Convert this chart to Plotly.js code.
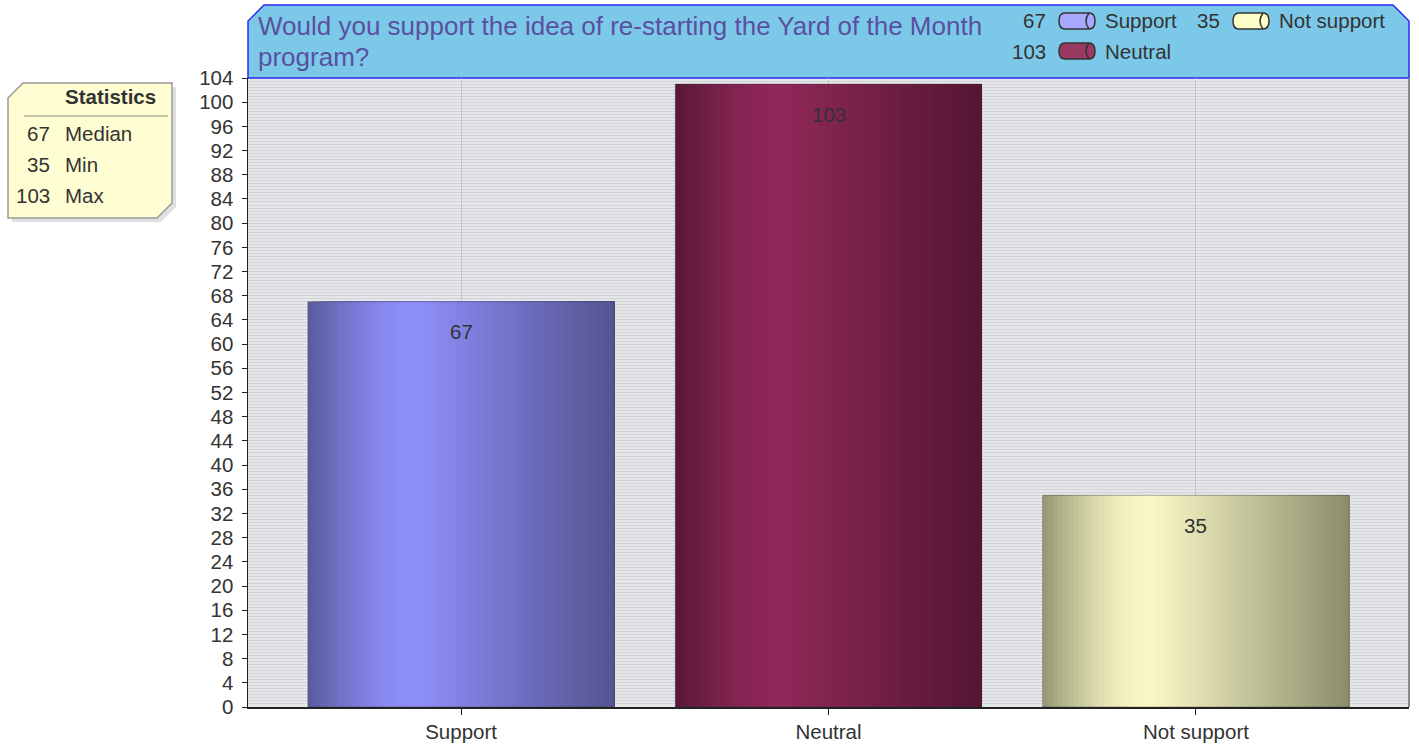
<!DOCTYPE html>
<html>
<head>
<meta charset="utf-8">
<script src="https://cdn.plot.ly/plotly-3.0.1.min.js"></script>
<style>
html,body{margin:0;padding:0;background:#fff;}
#chart{width:1419px;height:747px;}
</style>
</head>
<body>
<div id="chart"></div>
<script>
// ---- data ----
const categories = ['Support', 'Neutral', 'Not support'];
const values = [67, 103, 35];
const titleLines = ['Would you support the idea of re-starting the Yard of the Month', 'program?'];
const statLabels = ['Median', 'Min', 'Max'];
const yTicks = [];
for (let v = 0; v <= 104; v += 4) yTicks.push(v);

// ---- styles ----
const FONT = 'Liberation Sans, Arial, sans-serif';
const FS = 20.5;
const gradStops = [ // left, peak, right
  [[90, 90, 156], [142, 142, 250], [84, 84, 144]],
  [[88, 24, 56], [142, 40, 88], [84, 22, 50]],
  [[150, 150, 116], [248, 248, 198], [140, 140, 108]]
];
const legendFill = ['#a8a8ff', '#9a3a62', '#fefec8'];
const peakPos = 0.36;

// plot geometry in px
const L = 248, R = 1409, T = 78, B = 707;
const W = 1419, H = 747;
const px = x => (x - L) / (R - L);
const py = y => (B - y) / (B - T);

function mix(a, b, t) { return a.map((v, i) => Math.round(v + (b[i] - v) * t)); }
function gradColor(stops, t) {
  let c;
  if (t < peakPos) { const u = t / peakPos; c = mix(stops[0], stops[1], Math.sin(u * Math.PI / 2)); }
  else { const u = (t - peakPos) / (1 - peakPos); c = mix(stops[1], stops[2], u); }
  return 'rgb(' + c.join(',') + ')';
}

const barW = 0.834;
const N = 60;
const traces = [];
for (let i = 0; i < N; i++) {
  const t = (i + 0.5) / N;
  traces.push({
    type: 'bar', x: categories, y: values,
    offset: -barW / 2 + i * barW / N,
    width: barW - i * barW / N,
    marker: { color: gradStops.map(s => gradColor(s, t)), line: { width: 0 } },
    hoverinfo: 'skip', showlegend: false
  });
}
// outline
traces.push({
  type: 'bar', x: categories, y: values, width: barW,
  marker: { color: 'rgba(0,0,0,0)', line: { width: 1, color: 'rgba(40,40,40,0.35)' } },
  hovertemplate: '%{x}: %{y}<extra></extra>', showlegend: false
});

const annotations = [];
const shapes = [];

// bar value labels
categories.forEach((c, i) => {
  annotations.push({ x: c, y: values[i], xref: 'x', yref: 'y', text: String(values[i]),
    showarrow: false, yshift: -30, font: { family: FONT, size: FS, color: '#333' } });
});

// title band
const bandTop = 5, ch = 16;
shapes.push({ type: 'path', xref: 'paper', yref: 'paper', layer: 'below',
  path: `M ${px(L)} ${py(T)} L ${px(L)} ${py(bandTop + ch)} L ${px(L + ch)} ${py(bandTop)} L ${px(R - ch)} ${py(bandTop)} L ${px(R)} ${py(bandTop + ch)} L ${px(R)} ${py(T)} Z`,
  fillcolor: '#7cc8e8', line: { color: '#2a2af0', width: 1.5 } });
titleLines.forEach((t, i) => {
  annotations.push({ xref: 'paper', yref: 'paper', x: px(256), y: py(26 + i * 31), xanchor: 'left', yanchor: 'middle',
    text: t, showarrow: false, font: { family: FONT, size: 26, color: '#5a50a0' } });
});

// legend in band
const legCols = [1048, 1222];
const legRows = [21, 51];
categories.forEach((c, i) => {
  const col = Math.floor(i / 2), row = i % 2;
  const xr = legCols[col], yc = legRows[row];
  annotations.push({ xref: 'paper', yref: 'paper', x: px(xr), y: py(yc), xanchor: 'right', yanchor: 'middle',
    text: String(values[i]), showarrow: false, font: { family: FONT, size: FS, color: '#333' } });
  const x0 = xr + 11, x1 = xr + 47, y0 = yc - 8, y1 = yc + 8, r = 6;
  shapes.push({ type: 'path', xref: 'paper', yref: 'paper',
    path: `M ${px(x0 + r)} ${py(y0)} L ${px(x1 - r)} ${py(y0)} Q ${px(x1)} ${py(y0)} ${px(x1)} ${py(yc)} Q ${px(x1)} ${py(y1)} ${px(x1 - r)} ${py(y1)} L ${px(x0 + r)} ${py(y1)} Q ${px(x0)} ${py(y1)} ${px(x0)} ${py(yc)} Q ${px(x0)} ${py(y0)} ${px(x0 + r)} ${py(y0)} Z`,
    fillcolor: legendFill[i], line: { color: '#333', width: 1.5 } });
  shapes.push({ type: 'path', xref: 'paper', yref: 'paper',
    path: `M ${px(x1 - r)} ${py(y0)} Q ${px(x1 - 2 * r)} ${py(yc)} ${px(x1 - r)} ${py(y1)}`,
    line: { color: '#333', width: 1.5 } });
  annotations.push({ xref: 'paper', yref: 'paper', x: px(x1 + 8), y: py(yc), xanchor: 'left', yanchor: 'middle',
    text: c, showarrow: false, font: { family: FONT, size: FS, color: '#333' } });
});

// statistics box
const sorted = values.slice().sort((a, b) => a - b);
const median = sorted.length % 2 ? sorted[(sorted.length - 1) / 2] : (sorted[sorted.length / 2 - 1] + sorted[sorted.length / 2]) / 2;
const statVals = [median, Math.min(...values), Math.max(...values)];
const sx0 = 8, sx1 = 172, sy0 = 83, sy1 = 218, sc = 15;
const boxPath = (dx, dy) => `M ${px(sx0 + dx)} ${py(sy0 + sc + dy)} L ${px(sx0 + sc + dx)} ${py(sy0 + dy)} L ${px(sx1 + dx)} ${py(sy0 + dy)} L ${px(sx1 + dx)} ${py(sy1 - sc + dy)} L ${px(sx1 - sc + dx)} ${py(sy1 + dy)} L ${px(sx0 + dx)} ${py(sy1 + dy)} Z`;
shapes.push({ type: 'path', xref: 'paper', yref: 'paper', path: boxPath(4, 4), fillcolor: 'rgba(0,0,0,0.12)', line: { width: 0 } });
shapes.push({ type: 'path', xref: 'paper', yref: 'paper', path: boxPath(0, 0), fillcolor: '#fefed2', line: { color: '#9a9a9a', width: 1.5 } });
shapes.push({ type: 'line', xref: 'paper', yref: 'paper', x0: px(24), x1: px(168), y0: py(116), y1: py(116), line: { color: '#b0b0a0', width: 1.5 } });
annotations.push({ xref: 'paper', yref: 'paper', x: px(158), y: py(97), xanchor: 'right', yanchor: 'middle',
  text: '<b>Statistics</b>', showarrow: false, font: { family: FONT, size: FS, color: '#333' } });
statLabels.forEach((s, i) => {
  const yy = 134 + i * 31;
  annotations.push({ xref: 'paper', yref: 'paper', x: px(52), y: py(yy), xanchor: 'right', yanchor: 'middle',
    text: String(statVals[i]), showarrow: false, font: { family: FONT, size: FS, color: '#333' } });
  annotations.push({ xref: 'paper', yref: 'paper', x: px(63), y: py(yy), xanchor: 'left', yanchor: 'middle',
    text: s, showarrow: false, font: { family: FONT, size: FS, color: '#333' } });
});

// right border of plot area
shapes.push({ type: 'line', xref: 'paper', yref: 'paper', x0: 1, x1: 1, y0: 0, y1: 1, line: { color: '#888', width: 2 } });

const layout = {
  width: W, height: H,
  margin: { l: L, r: W - R, t: T, b: H - B, pad: 0 },
  paper_bgcolor: '#ffffff',
  plot_bgcolor: '#e6e7ea',
  barmode: 'overlay',
  showlegend: false,
  font: { family: FONT, size: FS, color: '#333' },
  xaxis: {
    type: 'category', range: [-0.58, 2.58], fixedrange: true,
    showgrid: true, gridcolor: '#c4c4c8', gridwidth: 1,
    showline: true, linecolor: '#222', linewidth: 1.5,
    ticks: 'outside', ticklen: 6, tickcolor: '#222',
    tickfont: { family: FONT, size: FS, color: '#333' }
  },
  yaxis: {
    range: [0, 104], fixedrange: true,
    tickvals: yTicks, ticktext: yTicks.map(String),
    showgrid: false, zeroline: false,
    showline: true, linecolor: '#222', linewidth: 1.5,
    ticks: 'outside', ticklen: 5, tickcolor: '#222',
    ticklabelstandoff: 4,
    tickfont: { family: FONT, size: FS, color: '#333' },
    minor: { dtick: 0.5, tick0: 0, showgrid: true, gridcolor: '#d2d3d7', gridwidth: 1 }
  },
  annotations: annotations,
  shapes: shapes
};

Plotly.newPlot('chart', traces, layout, { displayModeBar: false, staticPlot: true });
</script>
</body>
</html>
